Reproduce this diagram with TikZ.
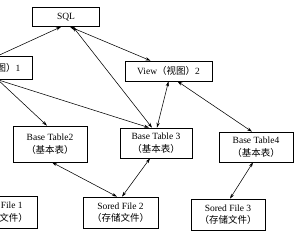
\documentclass[tikz,border=0pt]{standalone}
\usepackage{fontspec}
\setmainfont{Liberation Serif}
\newfontfamily\cjk{Noto Sans CJK SC}
\usepackage{tikz}
\usetikzlibrary{arrows.meta}
\newdimen\unitsize
\setlength{\unitsize}{1pt}

\begin{document}
\begin{tikzpicture}[x=\unitsize,y=-\unitsize,>={Stealth[length=5pt,width=3.2pt]}]
\tikzset{box/.style={draw, line width=0.7pt, align=center, inner sep=0pt, font=\fontsize{9.5}{12.5}\selectfont}}%
\tikzset{link/.style={line width=0.55pt}}%
\useasboundingbox (0,0) rectangle (300,240);
\clip (0,0) rectangle (300,240);
\node[box, minimum width=67pt, minimum height=19pt] (sql) at (66,17) {SQL};
\node[box, minimum width=87pt, minimum height=23pt] (view1) at (-11,68) {View{\cjk （视图）}1};
\node[box, minimum width=87pt, minimum height=20pt] (view2) at (168.5,71) {View{\cjk （视图）}2};
\node[box, minimum width=74pt, minimum height=36pt] (base2) at (50,144) {Base Table2\\{\cjk （基本表）}};
\node[box, minimum width=72pt, minimum height=30pt] (base3) at (156,143) {Base Table 3\\{\cjk （基本表）}};
\node[box, minimum width=74pt, minimum height=30pt] (base4) at (256,147) {Base Table4\\{\cjk （基本表）}};
\node[box, minimum width=75pt, minimum height=32pt] (file1) at (-0.5,212) {Sored File 1\\{\cjk （存储文件）}};
\node[box, minimum width=75pt, minimum height=31pt] (file2) at (120.5,212.5) {Sored File 2\\{\cjk （存储文件）}};
\node[box, minimum width=74pt, minimum height=31pt] (file3) at (228,214.5) {Sored File 3\\{\cjk （存储文件）}};
% views and tables up to SQL
\draw[link,->] ([xshift=8pt]view1.north) -- ([xshift=-5pt]sql.south);
\draw[link,<->] ([xshift=-18pt]view2.north) -- ([xshift=4pt]sql.south);
\draw[link,<->] ([xshift=-4pt]base3.north) -- ([xshift=7pt]sql.south);
% views down to tables
\draw[link,->] ([xshift=9pt]view1.south) -- ([xshift=-3pt]base2.north);
\draw[link,->] ([xshift=9pt]view1.south) -- ([xshift=-7pt]base3.north);
\draw[link,<->] (view2.south) -- ([xshift=1pt]base3.north);
\draw[link,<->] ([xshift=9pt]view2.south) -- ([xshift=-4pt]base4.north);
% tables down to files
\draw[link,<->] ([xshift=2pt]base2.south) -- ([xshift=-3.5pt]file2.north);
\draw[link,<->] ([xshift=-6pt]base3.south) -- ([xshift=1.5pt]file2.north);
\draw[link,<->] ([xshift=-3pt]base4.south) -- ([xshift=2pt]file3.north);
\end{tikzpicture}
\end{document}
